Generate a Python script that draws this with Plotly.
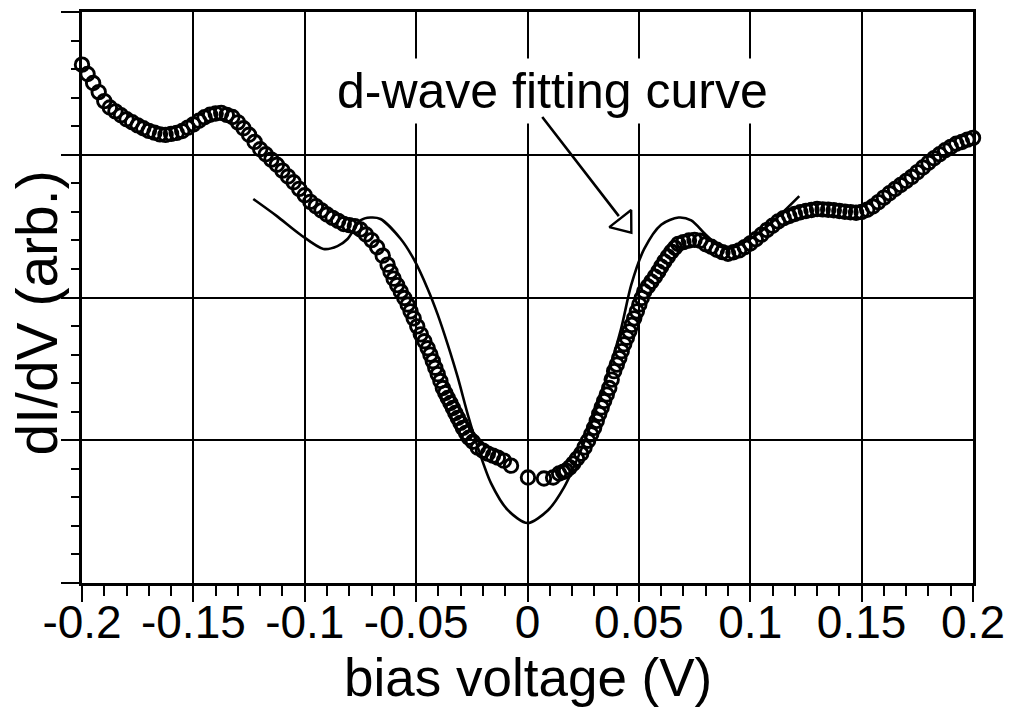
import plotly.graph_objects as go

# ---------------- data ----------------
bias_data = [
    -0.2000, -0.1975, -0.1950, -0.1925, -0.1900, -0.1875, -0.1850, -0.1825, -0.1800, -0.1775,
    -0.1750, -0.1725, -0.1700, -0.1675, -0.1650, -0.1625, -0.1600, -0.1575, -0.1550, -0.1525,
    -0.1500, -0.1475, -0.1450, -0.1425, -0.1400, -0.1375, -0.1350, -0.1325, -0.1300, -0.1275,
    -0.1250, -0.1225, -0.1200, -0.1175, -0.1150, -0.1125, -0.1100, -0.1075, -0.1050, -0.1025,
    -0.1000, -0.0975, -0.0950, -0.0925, -0.0900, -0.0875, -0.0850, -0.0825, -0.0800, -0.0775,
    -0.0750, -0.0725, -0.0700, -0.0675, -0.0650,
    -0.0628, -0.0615, -0.0601, -0.0585, -0.0569, -0.0553, -0.0538, -0.0525, -0.0511, -0.0495,
    -0.0479, -0.0463, -0.0448, -0.0436, -0.0425, -0.0414, -0.0403, -0.0391, -0.0380, -0.0369,
    -0.0358, -0.0346, -0.0335, -0.0324, -0.0313, -0.0301, -0.0290, -0.0276, -0.0263, -0.0245,
    -0.0223, -0.0200, -0.0178, -0.0155, -0.0133, -0.0106, -0.0074, 0.0002,
    0.0074, 0.0115, 0.0142, 0.0160, 0.0173, 0.0190, 0.0205, 0.0222, 0.0241, 0.0256,
    0.0272, 0.0286, 0.0299, 0.0311, 0.0322, 0.0333, 0.0344, 0.0356, 0.0367, 0.0378,
    0.0389, 0.0401, 0.0412, 0.0423, 0.0434, 0.0446, 0.0457, 0.0468, 0.0479, 0.0491,
    0.0502, 0.0513, 0.0524, 0.0540, 0.0556, 0.0572, 0.0587, 0.0600, 0.0614, 0.0630,
    0.0646, 0.0662, 0.0677,
    0.0700, 0.0725, 0.0750, 0.0775, 0.0800, 0.0825, 0.0850, 0.0875, 0.0900, 0.0925,
    0.0950, 0.0975, 0.1000, 0.1025, 0.1050, 0.1075, 0.1100, 0.1125, 0.1150, 0.1175,
    0.1200, 0.1225, 0.1250, 0.1275, 0.1300, 0.1325, 0.1350, 0.1375, 0.1400, 0.1425,
    0.1450, 0.1475, 0.1500, 0.1525, 0.1550, 0.1575, 0.1600, 0.1625, 0.1650, 0.1675,
    0.1700, 0.1725, 0.1750, 0.1775, 0.1800, 0.1825, 0.1850, 0.1875, 0.1900, 0.1925,
    0.1950, 0.1975, 0.2000,
]
didv_data = [
    3.631, 3.566, 3.503, 3.439, 3.376, 3.331, 3.304, 3.277, 3.249, 3.228,
    3.206, 3.186, 3.167, 3.155, 3.143, 3.139, 3.146, 3.153, 3.166, 3.190,
    3.213, 3.238, 3.263, 3.280, 3.289, 3.293, 3.279, 3.264, 3.227, 3.186,
    3.140, 3.090, 3.039, 3.003, 2.966, 2.930, 2.889, 2.848, 2.807, 2.761,
    2.716, 2.670, 2.640, 2.610, 2.581, 2.558, 2.537, 2.515, 2.507, 2.499,
    2.476, 2.441, 2.402, 2.352, 2.293,
    2.230, 2.180, 2.132, 2.087, 2.042, 1.996, 1.951, 1.903, 1.854, 1.798,
    1.742, 1.694, 1.645, 1.600, 1.554, 1.508, 1.463, 1.415, 1.366, 1.331,
    1.296, 1.261, 1.226, 1.191, 1.157, 1.122, 1.087, 1.052, 1.017, 0.990,
    0.948, 0.927, 0.906, 0.892, 0.878, 0.857, 0.822, 0.739,
    0.732, 0.739, 0.767, 0.778, 0.787, 0.810, 0.836, 0.870, 0.906, 0.950,
    0.997, 1.042, 1.087, 1.136, 1.185, 1.230, 1.275, 1.320, 1.366, 1.425,
    1.484, 1.530, 1.575, 1.624, 1.672, 1.718, 1.763, 1.808, 1.854, 1.903,
    1.951, 1.997, 2.042, 2.077, 2.111, 2.146, 2.181, 2.216, 2.251, 2.286,
    2.321, 2.349, 2.376,
    2.388, 2.399, 2.404, 2.398, 2.373, 2.355, 2.334, 2.318, 2.307, 2.317,
    2.330, 2.353, 2.378, 2.408, 2.440, 2.473, 2.503, 2.532, 2.556, 2.571,
    2.585, 2.597, 2.606, 2.613, 2.620, 2.617, 2.615, 2.611, 2.606, 2.601,
    2.597, 2.594, 2.599, 2.615, 2.638, 2.668, 2.700, 2.730, 2.760, 2.788,
    2.816, 2.845, 2.878, 2.911, 2.944, 2.976, 3.004, 3.031, 3.055, 3.077,
    3.089, 3.106, 3.118,
]

bias_fit = [
    -0.1231, -0.1125, -0.1019, -0.0916, -0.0853, -0.0808, -0.0750, -0.0705, -0.0660, -0.0569,
    -0.0511, -0.0448, -0.0403, -0.0358, -0.0313, -0.0268, -0.0223, -0.0164, -0.0088, 0.0000,
    0.0092, 0.0164, 0.0240, 0.0300, 0.0360, 0.0420, 0.0466, 0.0524, 0.0600, 0.0678,
    0.0735, 0.0794, 0.0850, 0.0900, 0.1000, 0.1100, 0.1220,
]
didv_fit = [
    2.69, 2.57, 2.44, 2.34, 2.36, 2.41, 2.54, 2.56, 2.55, 2.41,
    2.27, 2.06, 1.88, 1.67, 1.44, 1.18, 0.95, 0.70, 0.51, 0.42,
    0.51, 0.67, 0.93, 1.18, 1.46, 1.78, 2.09, 2.34, 2.51, 2.56,
    2.54, 2.45, 2.37, 2.34, 2.41, 2.53, 2.71,
]

x_tick_vals = [-0.2, -0.15, -0.1, -0.05, 0, 0.05, 0.1, 0.15, 0.2]
x_tick_text = ["-0.2", "-0.15", "-0.1", "-0.05", "0", "0.05", "0.1", "0.15", "0.2"]
y_tick_vals = [0, 1, 2, 3, 4]

x_title = "bias voltage (V)"
y_title = "dI/dV (arb.)"
note_text = "d-wave fitting curve"
# annotation anchor points (data units)
note_pos = (0.0110, 3.45)
arrow_tail = (0.0061, 3.275)
arrow_head = (0.0410, 2.57)
head_marker = (0.0433, 2.52)

FONT = "Liberation Sans, Arial, Helvetica, sans-serif"

fig = go.Figure()

fig.add_trace(go.Scatter(
    x=bias_fit, y=didv_fit, mode="lines",
    line=dict(color="black", width=2.6, shape="spline", smoothing=0.8),
    hoverinfo="skip", showlegend=False,
))

fig.add_trace(go.Scatter(
    x=bias_data, y=didv_data, mode="markers",
    marker=dict(symbol="circle-open", size=13.5, color="black",
                line=dict(color="black", width=2.9)),
    cliponaxis=False, showlegend=False,
))

# open triangular arrow head
fig.add_trace(go.Scatter(
    x=[head_marker[0]], y=[head_marker[1]], mode="markers",
    marker=dict(symbol="triangle-up", size=24, angle=142, color="white",
                line=dict(color="black", width=2.4)),
    showlegend=False, hoverinfo="skip",
))

axis_common = dict(
    showline=True, linecolor="black", linewidth=2.6, mirror=True,
    showgrid=True, gridcolor="black", gridwidth=1.8,
    zeroline=False, ticks="outside", tickcolor="black", tickwidth=2.4,
)

fig.update_xaxes(
    range=[-0.2, 0.2], tickmode="array", tickvals=x_tick_vals, ticktext=x_tick_text,
    ticklen=16, ticklabelstandoff=-19,
    tickfont=dict(family=FONT, size=46, color="black"),
    minor=dict(dtick=0.01, tick0=-0.2, ticks="outside", ticklen=10, tickwidth=2,
               tickcolor="black", showgrid=False),
    **axis_common,
)
fig.update_yaxes(
    range=[0, 4], tickmode="array", tickvals=y_tick_vals, showticklabels=False,
    ticklen=18,
    minor=dict(dtick=0.2, tick0=0, ticks="outside", ticklen=8, tickwidth=2,
               tickcolor="black", showgrid=False),
    **axis_common,
)

fig.add_annotation(
    x=note_pos[0], y=note_pos[1], xref="x", yref="y", text=note_text,
    showarrow=False, font=dict(family=FONT, size=50, color="black"),
    bgcolor="white", borderpad=4,
)
fig.add_annotation(
    x=arrow_head[0], y=arrow_head[1], xref="x", yref="y",
    ax=arrow_tail[0], ay=arrow_tail[1], axref="x", ayref="y",
    text="", showarrow=True, arrowhead=0, arrowwidth=2.6, arrowcolor="black",
)

fig.add_annotation(
    x=0.5, y=0, xref="paper", yref="paper", text=x_title, showarrow=False,
    yanchor="middle", yshift=-94,
    font=dict(family=FONT, size=53, color="black"),
)
fig.add_annotation(
    x=0, y=0.472, xref="paper", yref="paper", text=y_title, showarrow=False,
    textangle=-90, xanchor="center", xshift=-45,
    font=dict(family=FONT, size=57, color="black"),
)

fig.update_layout(
    width=1016, height=708,
    margin=dict(l=82, r=43, t=9, b=125),
    paper_bgcolor="white", plot_bgcolor="white",
    showlegend=False,
)

fig.write_html("out.html", config={"displayModeBar": False},
               post_script="document.body.style.margin='0px';")
